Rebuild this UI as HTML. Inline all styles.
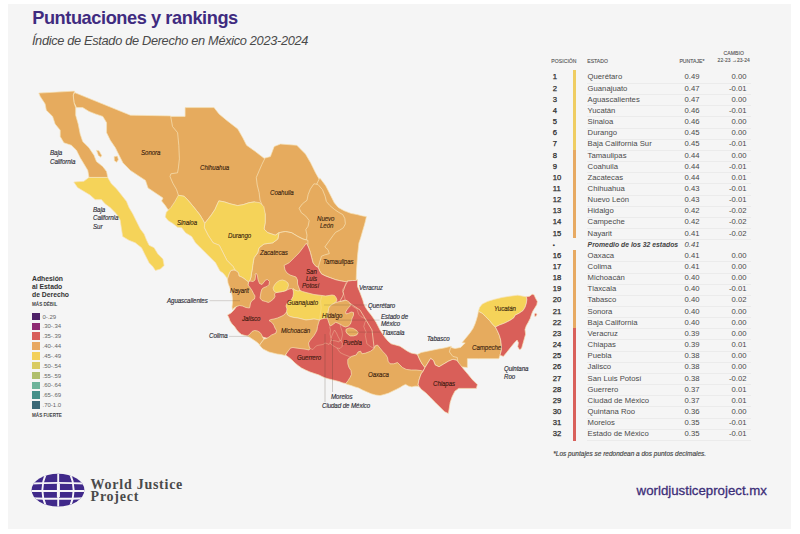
<!DOCTYPE html>
<html><head><meta charset="utf-8">
<style>
html,body{margin:0;padding:0;background:#fff;}
body{width:800px;height:534px;position:relative;overflow:hidden;font-family:"Liberation Sans",sans-serif;}
#bg{position:absolute;left:8px;top:4px;width:783px;height:525px;background:#f5f5f5;}
svg{position:absolute;left:0;top:0;}
.t{position:absolute;white-space:nowrap;line-height:1;}
#title{left:32.2px;top:9.0px;font-size:18.2px;font-weight:bold;color:#3f2b80;letter-spacing:-0.42px;}
#sub{left:31.9px;top:34.8px;font-size:12.8px;font-style:italic;color:#4a4a4a;letter-spacing:-0.33px;}
.lb{position:absolute;white-space:nowrap;font-style:italic;font-size:7.2px;line-height:1;color:rgba(45,18,8,0.85);letter-spacing:-0.1px;-webkit-text-stroke:0.2px rgba(45,18,8,0.85);transform:scaleX(0.86);transform-origin:0 50%;}
.lo{color:#2e2e38;-webkit-text-stroke:0.15px #2e2e38;}
.row{position:absolute;left:0;height:10px;line-height:10px;font-size:7.7px;color:#4a4a4a;white-space:nowrap;}
.row span{position:absolute;top:0;}
.n{left:552.8px;color:#2a2a2a;font-size:7.7px;-webkit-text-stroke:0.25px #2a2a2a;}
.s{left:587.6px;}
.p{left:684.6px;}
.c{right:53.5px;}
.hd{position:absolute;font-size:5.1px;color:#555;-webkit-text-stroke:0.12px #555;line-height:1;white-space:nowrap;letter-spacing:0.05px;}
.lg{position:absolute;left:42.5px;font-size:6px;color:#666;line-height:1;white-space:nowrap;}
.sw{position:absolute;left:32px;width:7.6px;height:7.6px;}
</style></head><body>
<div id="bg"></div>
<div class="t" id="title">Puntuaciones y rankings</div>
<div class="t" id="sub">Índice de Estado de Derecho en México 2023-2024</div>
<svg width="800" height="534" viewBox="0 0 800 534">
<g stroke="#f6e3b8" stroke-width="0.7" stroke-linejoin="round">
<path d="M170.0,116.4 L185.1,116.4 L185.1,107.6 L214.0,107.6 L219.0,113.9 L226.5,120.2 L237.8,129.0 L242.8,137.8 L246.6,145.3 L255.4,151.6 L264.1,158.3 L271.3,158.8 L271.3,215.0 L254.4,201.9 L248.8,202.8 L243.1,204.7 L237.5,205.6 L230.0,203.8 L224.4,201.9 L218.8,200.9 L215.0,209.4 L211.3,215.0 L204.7,223.4 L202.8,219.7 L200.0,215.0 L196.3,210.3 L192.5,205.6 L187.8,200.0 L184.1,196.3 L178.4,195.3 L168.1,195.3 L168.1,158.8 L165.0,116.4Z" fill="#E6AB5E"/>
<path d="M264.1,158.3 L270.4,156.6 L274.2,146.5 L280.5,144.0 L296.8,145.3 L305.5,154.1 L310.6,162.8 L315.6,172.9 L320.6,181.7 L317.9,183.8 L330.5,200.1 L325.5,250.3 L307.9,245.3 L307.9,240.3 L302.9,239.0 L297.9,236.5 L291.6,232.7 L285.3,231.5 L279.0,232.7 L275.3,235.2 L267.8,232.7 L264.0,229.0 L265.2,222.7 L265.2,213.9 L261.5,205.1 L261.9,204.7 L260.0,200.0 L259.1,192.5 L257.2,185.0 L256.3,177.5 L259.1,170.9 L261.9,164.4 L264.7,158.8Z" fill="#E6AB5E"/>
<path d="M74.7,92.6 L130.4,115.2 L170.6,115.9 L172.5,126.5 L177.6,132.7 L178.8,145.3 L179.4,158.8 L178.4,168.1 L177.5,172.8 L170.9,173.8 L170.0,176.6 L172.8,183.1 L176.6,189.7 L178.4,195.3 L181.3,201.9 L175.6,211.3 L168.1,209.8 L165.3,205.6 L161.6,200.9 L163.0,198.0 L155.5,193.0 L148.0,187.9 L145.5,180.4 L137.9,175.4 L130.4,170.4 L122.9,162.8 L119.1,155.3 L115.4,147.8 L110.3,140.3 L106.6,132.7 L106.6,122.7 L102.8,116.4 L95.3,113.9 L89.0,111.4 L82.7,107.6 L76.5,107.6 L74.0,102.6 L73.2,95.1Z" fill="#E6AB5E"/>
<path d="M114.1,156.6 L117.4,156.1 L118.4,159.8 L116.6,162.3 L114.4,160.8Z" fill="#E6AB5E"/>
<path d="M38.8,93.1 L74.7,91.1 L73.2,95.1 L74.0,102.6 L75.7,107.6 L75.7,115.2 L78.2,124.0 L80.2,134.0 L82.7,141.5 L89.0,147.8 L94.0,155.3 L96.5,161.6 L102.8,166.6 L106.6,171.6 L107.8,177.4 L89.0,177.4 L87.8,170.4 L84.0,164.1 L80.2,157.8 L76.5,150.3 L71.4,145.3 L63.9,142.8 L60.2,136.5 L60.2,130.2 L55.1,124.0 L52.6,116.4 L46.3,110.2 L45.1,103.9 L40.1,96.3Z" fill="#E6AB5E"/>
<path d="M96.5,150.3 L99.0,150.8 L101.6,155.3 L100.8,157.3 L98.3,155.3Z" fill="#E6AB5E"/>
<path d="M88.9,177.5 L107.7,177.5 L111.4,183.8 L116.5,188.8 L121.5,195.1 L126.5,201.4 L129.0,207.6 L132.8,213.9 L136.5,221.4 L140.3,229.0 L144.1,234.0 L146.6,240.3 L149.1,245.3 L154.1,247.8 L157.9,254.1 L162.9,259.1 L164.1,265.4 L160.4,269.1 L155.4,270.4 L152.8,266.6 L149.1,262.8 L145.3,255.3 L141.6,247.8 L135.3,242.8 L129.0,240.3 L122.7,236.5 L121.5,229.0 L120.2,220.2 L116.5,213.9 L110.2,207.6 L105.2,203.9 L101.4,199.6 L95.1,199.6 L90.1,195.1 L83.8,191.3 L77.6,187.6 L73.8,182.0 L83.8,181.3Z" fill="#F5D359"/>
<path d="M316.6,184.2 L319.8,177.9 L321.8,180.5 L325.7,185.7 L328.4,191.0 L331.0,196.2 L334.3,202.8 L338.2,207.4 L344.1,210.7 L350.7,213.3 L357.2,214.6 L362.5,215.9 L366.4,216.6 L365.7,220.0 L364.4,225.0 L362.3,232.0 L360.6,238.0 L358.9,243.0 L357.5,256.0 L356.6,269.0 L356.2,280.0 L357.5,279.8 L355.6,280.5 L352.3,280.5 L347.7,281.1 L346.4,281.8 L341.8,281.1 L335.9,279.8 L330.7,277.9 L325.4,275.9 L321.5,273.9 L319.5,270.7 L318.2,267.4 L315.6,266.1 L311.5,255.4 L311.5,192.5Z" fill="#E6AB5E"/>
<path d="M313.9,183.8 L317.9,184.4 L322.5,189.7 L325.1,196.2 L326.4,201.5 L329.7,205.4 L334.3,209.3 L338.2,212.0 L342.8,214.6 L344.8,218.5 L345.4,223.8 L343.4,227.7 L339.5,230.3 L335.6,232.3 L333.0,235.6 L324.8,247.0 L328.0,249.7 L329.3,253.6 L324.8,254.9 L321.5,256.2 L319.5,262.8 L318.2,267.4 L315.6,266.1 L313.0,262.8 L311.6,257.5 L310.3,252.3 L308.4,247.0 L306.4,243.1 L306.5,239.7 L307.0,235.2 L305.8,229.6 L308.1,226.2 L309.2,220.6 L305.8,216.1 L301.3,212.7 L299.1,208.2 L302.5,203.7 L307.0,200.3 L308.1,194.7 L310.3,189.1Z" fill="#E6AB5E"/>
<path d="M279.0,232.7 L285.3,231.5 L291.6,232.7 L297.9,236.5 L302.9,239.0 L307.9,240.3 L307.9,244.0 L300.0,272.0 L300.0,292.0 L276.0,307.0 L250.0,307.0 L248.5,282.0 L250.0,280.0 L251.0,277.0 L251.5,273.0 L252.5,268.0 L252.7,265.4 L254.0,257.8 L257.7,252.8 L259.0,247.8 L264.0,244.0 L272.8,242.8 L277.8,239.0Z" fill="#E6AB5E"/>
<path d="M204.7,223.4 L211.3,215.0 L215.0,209.4 L218.8,200.9 L224.4,201.9 L230.0,203.8 L237.5,205.6 L243.1,204.7 L248.8,202.8 L254.4,201.9 L260.0,202.8 L263.8,206.6 L265.2,213.9 L265.2,222.7 L264.0,229.0 L267.8,232.7 L275.3,235.2 L279.0,232.7 L277.8,239.0 L272.8,242.8 L264.0,244.0 L259.0,247.8 L257.7,252.8 L254.0,257.8 L252.7,265.4 L252.5,268.0 L251.5,273.0 L251.0,277.0 L250.0,280.0 L248.5,282.0 L246.5,280.5 L244.0,278.5 L241.5,277.0 L239.0,276.0 L238.5,273.0 L236.5,271.0 L235.0,270.0 L233.1,266.6 L226.9,260.3 L223.1,252.8 L219.3,245.3 L213.1,242.8 L208.1,235.2 L204.3,227.7Z" fill="#F5D359"/>
<path d="M178.4,195.3 L184.1,196.3 L187.8,200.0 L192.5,205.6 L196.3,210.3 L200.0,215.0 L202.8,219.7 L204.7,223.4 L204.3,227.7 L208.1,235.2 L213.1,242.8 L219.3,245.3 L223.1,252.8 L226.9,260.3 L233.1,266.6 L235.0,270.0 L234.0,270.0 L231.0,270.5 L229.5,273.0 L227.5,279.0 L225.5,276.0 L223.0,273.0 L220.0,271.0 L215.6,262.8 L208.1,255.3 L200.5,247.8 L195.5,242.8 L191.7,236.5 L185.5,232.7 L181.7,227.7 L177.5,227.2 L172.8,223.4 L168.1,220.6 L165.3,216.9 L166.3,212.2 L170.9,207.5 L174.7,201.9Z" fill="#F5D359"/>
<path d="M306.4,243.1 L308.4,247.0 L310.3,252.3 L311.6,257.5 L313.0,262.8 L315.6,266.1 L318.2,267.4 L319.5,270.7 L321.5,273.9 L325.4,275.9 L330.7,277.9 L335.9,279.8 L341.8,281.1 L346.4,281.8 L347.7,281.1 L350.0,305.0 L320.0,305.0 L300.0,300.0 L300.0,290.5 L299.0,288.0 L297.5,284.0 L297.5,280.0 L296.0,277.0 L293.0,276.0 L290.0,275.0 L287.0,273.0 L285.0,270.0 L284.1,265.4 L289.1,262.8 L294.1,257.8 L299.1,252.8 L302.9,247.8Z" fill="#D95F59"/>
<path d="M347.7,281.1 L352.3,280.5 L355.6,280.5 L357.5,279.8 L357.5,286.4 L360.2,293.0 L362.8,300.0 L363.8,303.8 L365.6,307.5 L368.1,311.2 L371.2,315.0 L373.8,318.8 L376.2,322.5 L378.1,326.2 L380.0,330.0 L382.5,333.8 L385.0,337.5 L388.1,341.2 L391.2,343.8 L395.6,345.0 L400.0,346.2 L403.8,348.8 L407.5,351.2 L411.2,353.1 L415.0,353.8 L417.5,354.4 L417.5,354.4 L418.8,357.5 L420.6,361.2 L422.5,364.4 L425.0,367.5 L423.1,371.2 L415.0,375.0 L390.0,368.8 L377.5,350.0 L352.5,337.5 L352.5,312.5 L340.0,301.0 L342.5,296.5 L343.5,294.0 L343.0,291.5 L344.0,289.0 L345.0,286.0Z" fill="#D95F59"/>
<path d="M285.5,355.0 L289.0,357.5 L292.0,360.0 L295.0,363.0 L298.0,365.5 L301.5,368.0 L305.5,370.0 L310.0,372.0 L314.5,373.5 L319.0,375.0 L323.0,377.0 L327.0,378.5 L331.0,379.5 L335.0,380.5 L339.0,381.5 L343.0,383.0 L346.0,383.5 L360.0,375.0 L375.0,355.0 L372.0,330.0 L360.0,310.0 L345.0,300.0 L330.0,305.0 L315.0,315.0 L305.0,335.0 L290.0,345.0Z" fill="#D95F59"/>
<path d="M247.5,336.0 L245.0,335.5 L241.5,334.5 L238.5,332.0 L236.5,329.5 L234.5,326.5 L232.0,324.0 L230.0,321.0 L229.0,318.0 L227.5,315.0 L231.0,313.0 L233.5,310.5 L240.0,302.0 L246.0,292.0 L248.5,282.0 L250.0,281.0 L253.0,281.5 L255.0,280.0 L255.5,276.0 L255.0,274.0 L256.5,273.5 L257.5,276.0 L258.0,279.5 L259.5,283.5 L262.0,284.5 L264.0,282.0 L265.5,280.0 L267.5,279.5 L269.5,281.5 L269.0,284.5 L267.0,286.5 L264.0,287.5 L262.0,289.0 L261.0,292.0 L260.5,295.0 L260.0,298.0 L262.0,300.5 L265.5,301.5 L268.5,302.5 L271.0,301.0 L273.5,299.0 L275.0,296.5 L274.5,294.0 L276.0,292.5 L279.0,292.0 L282.5,291.5 L286.0,290.5 L289.0,289.0 L291.5,288.5 L293.5,290.0 L296.0,291.0 L290.0,305.0 L290.0,320.0 L280.0,330.0 L270.0,339.0 L255.0,335.0Z" fill="#D95F59"/>
<path d="M227.5,279.0 L229.5,273.0 L231.0,270.5 L234.0,270.0 L236.5,271.0 L238.5,273.0 L239.0,276.0 L241.5,277.0 L244.0,278.5 L246.5,280.5 L248.5,282.0 L248.0,285.0 L250.0,287.5 L252.0,290.5 L253.5,293.5 L255.0,296.0 L254.5,299.0 L252.0,300.5 L250.5,303.0 L250.0,306.0 L249.5,308.0 L246.0,307.5 L242.5,306.0 L239.5,305.5 L236.5,306.5 L234.0,308.0 L232.5,310.0 L232.0,307.0 L232.5,303.0 L232.5,299.0 L232.0,295.0 L231.0,291.0 L229.5,287.0 L228.0,283.0Z" fill="#E6AB5E"/>
<path d="M274.5,285.0 L276.5,282.5 L279.5,280.5 L282.5,280.0 L285.5,281.0 L288.0,283.0 L288.5,285.5 L287.5,288.2 L286.0,290.5 L282.5,291.5 L279.0,292.0 L276.0,292.5 L274.0,291.0 L273.0,288.0Z" fill="#F5D359"/>
<path d="M293.0,288.5 L295.0,290.0 L298.0,291.0 L300.0,290.5 L302.5,291.5 L306.0,292.5 L310.0,293.5 L314.0,294.5 L318.0,295.0 L322.0,295.5 L325.5,296.0 L329.0,295.5 L332.0,295.0 L334.5,295.5 L336.0,297.5 L337.0,300.0 L336.0,302.0 L332.9,304.0 L330.1,305.9 L328.7,308.3 L328.3,311.1 L327.8,314.3 L327.3,318.1 L324.0,318.3 L321.7,319.0 L319.5,320.0 L317.0,319.5 L314.0,319.0 L310.0,319.5 L306.0,320.0 L302.0,319.0 L298.0,318.0 L294.0,317.5 L290.0,316.5 L287.5,315.0 L286.5,312.0 L287.0,309.0 L286.0,306.0 L287.0,303.5 L289.0,301.5 L291.5,299.5 L293.0,296.5 L293.5,293.0Z" fill="#F5D359"/>
<path d="M264.0,339.0 L266.5,338.5 L269.0,337.0 L271.5,335.0 L274.0,334.0 L276.0,333.0 L276.5,330.5 L275.0,328.0 L274.0,325.5 L272.5,323.0 L270.5,321.5 L269.0,320.5 L271.0,319.5 L274.0,319.0 L277.5,318.0 L281.0,316.5 L284.0,315.0 L286.5,312.0 L287.5,315.0 L290.0,316.5 L294.0,317.5 L298.0,318.0 L302.0,319.0 L306.0,320.0 L310.0,319.5 L314.0,319.0 L317.0,319.5 L319.5,320.0 L318.5,323.0 L317.5,326.5 L317.0,330.0 L315.5,333.0 L314.0,335.5 L312.0,338.0 L310.0,340.5 L308.5,343.0 L309.0,346.0 L310.0,348.5 L309.0,350.0 L307.0,349.5 L304.0,349.0 L300.0,348.5 L296.0,348.0 L293.0,347.5 L290.5,348.0 L289.0,350.0 L287.5,352.0 L286.0,354.0 L285.0,355.5 L281.0,354.5 L277.0,354.0 L273.0,353.0 L269.0,352.0 L266.0,350.5 L263.0,349.0 L261.0,347.0 L259.5,345.0 L262.0,341.5Z" fill="#E6AB5E"/>
<path d="M247.5,336.0 L250.0,334.0 L252.0,331.5 L254.5,330.5 L257.5,331.0 L260.0,332.5 L261.5,334.5 L262.5,337.0 L264.0,339.0 L262.0,341.5 L259.5,345.0 L258.5,343.5 L256.0,341.5 L253.0,339.5 L250.0,337.5Z" fill="#E6AB5E"/>
<path d="M328.7,308.3 L330.1,305.9 L332.9,304.0 L335.7,302.6 L339.0,301.7 L342.3,301.2 L345.6,300.3 L347.5,300.8 L349.3,302.6 L350.7,304.5 L349.8,306.4 L348.4,307.8 L347.0,309.7 L345.6,312.0 L346.0,313.9 L348.4,313.4 L351.2,312.0 L353.5,312.5 L353.5,315.3 L352.1,318.1 L351.2,321.8 L350.3,324.2 L348.4,326.0 L345.6,327.0 L342.8,326.0 L340.9,324.6 L338.1,323.2 L335.7,322.3 L333.9,323.7 L332.0,325.1 L330.1,326.0 L329.2,323.7 L328.3,320.9 L327.3,318.1 L327.8,314.3 L328.3,311.1Z" fill="#E6AB5E"/>
<path d="M346.0,329.3 L349.3,327.9 L353.1,328.4 L356.3,330.3 L358.2,332.6 L356.8,334.9 L353.5,335.9 L350.3,335.9 L347.5,334.0 L346.0,331.7Z" fill="#E6AB5E"/>
<path d="M345.6,383.8 L348.1,380.6 L350.0,377.5 L351.5,374.4 L351.0,370.6 L349.0,367.5 L347.8,363.8 L347.8,359.4 L351.2,356.5 L356.2,355.0 L358.1,351.9 L360.6,351.2 L361.9,353.8 L365.6,353.1 L370.6,351.2 L373.8,348.8 L375.6,345.6 L377.5,345.0 L380.0,348.1 L382.5,351.2 L385.6,354.4 L387.5,357.5 L388.1,361.2 L390.0,363.8 L393.8,363.8 L397.5,362.5 L400.0,365.0 L402.5,367.5 L406.2,369.4 L411.2,370.0 L416.2,370.0 L421.2,370.6 L423.1,371.2 L421.2,373.8 L420.0,376.9 L418.8,380.6 L418.1,384.4 L418.8,386.2 L415.0,386.2 L411.9,386.9 L408.8,386.2 L405.6,384.4 L403.1,385.6 L400.0,387.5 L396.2,389.4 L392.5,391.2 L388.8,393.1 L384.4,394.4 L380.0,395.6 L375.6,395.0 L371.2,393.8 L366.9,391.9 L362.5,390.0 L358.8,388.1 L355.0,386.9 L351.2,385.6 L347.5,384.4Z" fill="#E6AB5E"/>
<path d="M417.5,354.4 L421.2,352.5 L427.5,351.2 L438.1,349.0 L443.7,348.1 L451.2,346.2 L452.1,350.0 L454.0,354.6 L458.7,355.6 L459.6,364.0 L456.8,360.3 L453.0,359.3 L448.4,361.2 L443.7,364.0 L439.0,366.8 L435.2,364.9 L433.4,360.3 L430.6,358.4 L425.0,367.5 L422.5,364.4 L420.6,361.2 L418.8,357.5Z" fill="#E6AB5E"/>
<path d="M478.4,311.2 L482.3,313.2 L485.6,316.5 L489.5,320.4 L492.8,324.4 L495.4,327.0 L497.4,330.9 L499.4,335.5 L500.7,340.1 L501.3,345.4 L501.3,350.6 L500.0,355.3 L498.9,358.7 L489.9,358.7 L478.7,358.7 L467.4,358.7 L467.4,367.6 L458.4,366.5 L457.3,357.5 L452.8,356.4 L449.4,351.9 L450.6,347.4 L455.1,348.5 L460.7,347.4 L465.2,342.9 L462.0,342.7 L465.2,338.8 L467.9,335.5 L470.5,332.2 L473.1,328.3 L475.1,323.7 L476.4,319.8 L477.7,315.2Z" fill="#E6AB5E"/>
<path d="M430.6,358.4 L433.4,360.3 L435.2,364.9 L439.0,366.8 L443.7,364.0 L448.4,361.2 L453.0,359.3 L456.8,360.3 L459.6,364.0 L463.3,368.7 L468.0,374.3 L472.7,379.9 L477.4,384.6 L476.4,388.4 L468.0,388.4 L458.7,388.4 L454.9,391.2 L452.1,396.8 L450.2,402.4 L449.3,408.0 L448.4,413.6 L444.6,411.8 L439.9,407.1 L435.2,402.4 L430.6,397.7 L425.9,393.0 L421.2,389.3 L418.8,386.2 L418.1,384.4 L418.8,380.6 L420.0,376.9 L421.2,373.8 L423.1,371.2 L425.0,367.5Z" fill="#D95F59"/>
<path d="M478.4,311.2 L479.7,307.3 L482.3,304.0 L487.6,301.4 L494.1,299.4 L502.0,297.5 L509.9,296.2 L517.7,295.2 L523.0,296.2 L526.3,296.8 L526.9,299.4 L526.3,303.4 L525.0,307.3 L523.0,310.6 L519.1,313.2 L515.1,315.2 L513.8,317.8 L509.9,320.4 L504.6,323.1 L499.4,325.0 L495.4,327.0 L492.8,324.4 L489.5,320.4 L485.6,316.5 L482.3,313.2Z" fill="#F5D359"/>
<path d="M526.3,296.8 L529.6,296.2 L532.2,294.2 L534.1,294.8 L535.5,298.1 L537.4,301.4 L536.8,304.7 L534.8,308.0 L532.8,311.2 L531.5,314.5 L530.2,318.5 L528.2,322.4 L526.3,325.7 L525.0,329.6 L525.6,334.2 L524.3,338.8 L523.0,343.4 L521.7,348.0 L519.7,350.0 L517.7,346.7 L518.4,342.7 L517.1,340.1 L514.5,342.7 L511.8,346.0 L509.2,349.3 L506.6,352.6 L503.4,356.4 L500.0,355.3 L501.3,350.6 L501.3,345.4 L500.7,340.1 L499.4,335.5 L497.4,330.9 L495.4,327.0 L499.4,325.0 L504.6,323.1 L509.9,320.4 L513.8,317.8 L515.1,315.2 L519.1,313.2 L523.0,310.6 L525.0,307.3 L526.3,303.4 L526.9,299.4Z" fill="#D95F59"/>
<path d="M534.4,314.1 L535.9,313.1 L536.9,314.4 L536.1,316.2 L534.8,316.5Z" fill="#D95F59"/>
<path d="M345.5,283.0 L345.0,286.0 L342.3,290.0 L343.2,292.8 L344.2,295.6 L345.1,299.4 L345.6,300.3" fill="none" stroke-width="0.45" stroke-opacity="0.75"/>
<path d="M350.7,304.5 L354.0,307.3 L356.8,308.7 L357.8,311.5 L358.7,314.3 L361.0,316.7 L364.3,318.1 L366.2,320.0 L364.8,322.8 L363.8,326.5 L364.8,329.3 L366.2,332.1 L365.2,334.9 L366.2,340.0 L366.9,343.8 L370.0,346.2 L373.1,348.1 L375.6,345.6" fill="none" stroke-width="0.45" stroke-opacity="0.75"/>
<path d="M340.0,324.0 L341.0,328.0 L342.0,331.0 L342.5,335.0 L341.5,339.0 L341.0,341.0" fill="none" stroke-width="0.45" stroke-opacity="0.75"/>
<path d="M331.0,338.0 L333.0,333.0 L334.5,330.0 L336.5,333.0 L338.0,336.5 L340.0,340.0 L339.0,342.0 L336.0,341.0 L333.0,340.5 L331.0,340.0 L331.0,338.0" fill="none" stroke-width="0.45" stroke-opacity="0.75"/>
<path d="M331.0,340.0 L330.0,343.0 L332.0,345.0 L334.5,346.5 L337.0,348.0 L340.0,348.5 L342.0,346.5 L342.5,343.5 L341.0,341.0 L340.0,340.0" fill="none" stroke-width="0.45" stroke-opacity="0.75"/>
<path d="M310.0,348.5 L313.0,349.5 L314.5,347.5 L317.0,345.5 L320.0,345.0 L323.0,344.5 L325.0,343.0 L327.0,343.5 L329.0,344.5 L330.0,343.0" fill="none" stroke-width="0.45" stroke-opacity="0.75"/>
<path d="M337.0,348.0 L340.0,352.5 L344.0,354.5 L348.0,356.0 L351.0,357.5" fill="none" stroke-width="0.45" stroke-opacity="0.75"/>
<path d="M329.5,326.5 L330.5,330.0 L330.0,334.0 L331.0,338.0" fill="none" stroke-width="0.45" stroke-opacity="0.75"/>
<path d="M322.0,295.5 L320.5,301.0 L321.2,308.0 L320.2,315.0 L319.5,320.0" fill="none" stroke-width="0.45" stroke-opacity="0.75"/>
</g>
<g stroke="#4a3c2c" stroke-width="0.45" fill="none" stroke-opacity="0.45">
<path d="M209.5,300.7H240"/>
<path d="M229,336.4H249"/>
<path d="M324,305H367"/>
<path d="M337.2,320.1H379.5"/>
<path d="M347.5,332.1H380.5"/>
<path d="M325,334V402" stroke-opacity="0.55"/>
<path d="M332.5,339V392" stroke-opacity="0.55"/>
</g>
<g>
<clipPath id="gl"><ellipse cx="58" cy="490.1" rx="26.4" ry="16.3"/></clipPath>
<ellipse cx="58" cy="490.1" rx="26.4" ry="16.3" fill="#40298a"/>
<g clip-path="url(#gl)" stroke="#f6f5f8" stroke-width="1.9" fill="none">
<path d="M30,483.6 Q58,482.2 86,483.6"/>
<path d="M30,491 H86"/>
<path d="M30,498.2 Q58,499.4 86,498.2"/>
<path d="M46.1,473 Q38.6,489.9 46.1,507"/>
<path d="M69.9,473 Q77.4,489.9 69.9,507"/>
<path d="M58.2,472V508"/>
<path d="M58.4,484V497" stroke-width="3"/>
</g></g>
</svg>
<div class="lb lo" style="left:49.6px;top:148.9px;">Baja</div>
<div class="lb lo" style="left:49.6px;top:157.5px;">California</div>
<div class="lb lo" style="left:92.6px;top:206.1px;">Baja</div>
<div class="lb lo" style="left:92.6px;top:214.1px;">California</div>
<div class="lb lo" style="left:92.6px;top:222.6px;">Sur</div>
<div class="lb" style="left:140.5px;top:148.9px;">Sonora</div>
<div class="lb" style="left:200.0px;top:163.5px;">Chihuahua</div>
<div class="lb" style="left:270.4px;top:189.1px;">Coahuila</div>
<div class="lb" style="left:316.7px;top:215.1px;">Nuevo</div>
<div class="lb" style="left:320.0px;top:222.0px;">León</div>
<div class="lb" style="left:227.6px;top:231.8px;">Durango</div>
<div class="lb" style="left:177.4px;top:218.8px;">Sinaloa</div>
<div class="lb" style="left:260.0px;top:249.4px;">Zacatecas</div>
<div class="lb" style="left:323.0px;top:257.5px;">Tamaulipas</div>
<div class="lb" style="left:305.5px;top:267.7px;">San</div>
<div class="lb" style="left:305.5px;top:274.5px;">Luis</div>
<div class="lb" style="left:301.5px;top:281.7px;">Potosí</div>
<div class="lb lo" style="left:358.8px;top:283.5px;">Veracruz</div>
<div class="lb" style="left:229.6px;top:287.3px;">Nayarit</div>
<div class="lb lo" style="left:166.6px;top:296.8px;">Aguascalientes</div>
<div class="lb" style="left:242.3px;top:314.5px;">Jalisco</div>
<div class="lb lo" style="left:208.5px;top:332.4px;">Colima</div>
<div class="lb" style="left:287.2px;top:299.4px;">Guanajuato</div>
<div class="lb" style="left:280.7px;top:327.3px;">Michoacán</div>
<div class="lb" style="left:321.5px;top:311.5px;">Hidalgo</div>
<div class="lb lo" style="left:368.2px;top:301.6px;">Querétaro</div>
<div class="lb lo" style="left:381.0px;top:312.8px;">Estado de</div>
<div class="lb lo" style="left:381.0px;top:320.1px;">México</div>
<div class="lb lo" style="left:381.7px;top:328.9px;">Tlaxcala</div>
<div class="lb" style="left:342.7px;top:339.1px;">Puebla</div>
<div class="lb" style="left:296.5px;top:354.3px;">Guerrero</div>
<div class="lb" style="left:367.5px;top:370.9px;">Oaxaca</div>
<div class="lb lo" style="left:331.0px;top:392.7px;">Morelos</div>
<div class="lb lo" style="left:322.0px;top:402.4px;">Ciudad de México</div>
<div class="lb lo" style="left:427.0px;top:335.1px;">Tabasco</div>
<div class="lb" style="left:472.0px;top:343.5px;">Campeche</div>
<div class="lb" style="left:432.6px;top:379.5px;">Chiapas</div>
<div class="lb" style="left:494.4px;top:305.3px;">Yucatán</div>
<div class="lb lo" style="left:503.8px;top:364.9px;">Quintana</div>
<div class="lb lo" style="left:503.8px;top:372.9px;">Roo</div>
<div class="row" style="top:72.45px;width:800px;"><span class="n">1</span><span class="s">Querétaro</span><span class="p">0.49</span><span class="c">0.00</span></div>
<div class="row" style="top:83.60px;width:800px;"><span class="n">2</span><span class="s">Guanajuato</span><span class="p">0.47</span><span class="c">-0.01</span></div>
<div class="row" style="top:94.75px;width:800px;"><span class="n">3</span><span class="s">Aguascalientes</span><span class="p">0.47</span><span class="c">0.00</span></div>
<div class="row" style="top:105.90px;width:800px;"><span class="n">4</span><span class="s">Yucatán</span><span class="p">0.46</span><span class="c">-0.01</span></div>
<div class="row" style="top:117.05px;width:800px;"><span class="n">5</span><span class="s">Sinaloa</span><span class="p">0.46</span><span class="c">0.00</span></div>
<div class="row" style="top:128.20px;width:800px;"><span class="n">6</span><span class="s">Durango</span><span class="p">0.45</span><span class="c">0.00</span></div>
<div class="row" style="top:139.35px;width:800px;"><span class="n">7</span><span class="s">Baja California Sur</span><span class="p">0.45</span><span class="c">-0.01</span></div>
<div class="row" style="top:150.50px;width:800px;"><span class="n">8</span><span class="s">Tamaulipas</span><span class="p">0.44</span><span class="c">0.00</span></div>
<div class="row" style="top:161.65px;width:800px;"><span class="n">9</span><span class="s">Coahuila</span><span class="p">0.44</span><span class="c">-0.01</span></div>
<div class="row" style="top:172.80px;width:800px;"><span class="n">10</span><span class="s">Zacatecas</span><span class="p">0.44</span><span class="c">0.01</span></div>
<div class="row" style="top:183.95px;width:800px;"><span class="n">11</span><span class="s">Chihuahua</span><span class="p">0.43</span><span class="c">-0.01</span></div>
<div class="row" style="top:195.10px;width:800px;"><span class="n">12</span><span class="s">Nuevo León</span><span class="p">0.43</span><span class="c">-0.01</span></div>
<div class="row" style="top:206.25px;width:800px;"><span class="n">13</span><span class="s">Hidalgo</span><span class="p">0.42</span><span class="c">-0.02</span></div>
<div class="row" style="top:217.40px;width:800px;"><span class="n">14</span><span class="s">Campeche</span><span class="p">0.42</span><span class="c">-0.02</span></div>
<div class="row" style="top:228.55px;width:800px;"><span class="n">15</span><span class="s">Nayarit</span><span class="p">0.41</span><span class="c">-0.02</span></div>
<div class="row" style="top:250.85px;width:800px;"><span class="n">16</span><span class="s">Oaxaca</span><span class="p">0.41</span><span class="c">0.00</span></div>
<div class="row" style="top:262.00px;width:800px;"><span class="n">17</span><span class="s">Colima</span><span class="p">0.41</span><span class="c">0.00</span></div>
<div class="row" style="top:273.15px;width:800px;"><span class="n">18</span><span class="s">Michoacán</span><span class="p">0.40</span><span class="c">0.00</span></div>
<div class="row" style="top:284.30px;width:800px;"><span class="n">19</span><span class="s">Tlaxcala</span><span class="p">0.40</span><span class="c">-0.01</span></div>
<div class="row" style="top:295.45px;width:800px;"><span class="n">20</span><span class="s">Tabasco</span><span class="p">0.40</span><span class="c">0.02</span></div>
<div class="row" style="top:306.60px;width:800px;"><span class="n">21</span><span class="s">Sonora</span><span class="p">0.40</span><span class="c">0.00</span></div>
<div class="row" style="top:317.75px;width:800px;"><span class="n">22</span><span class="s">Baja California</span><span class="p">0.40</span><span class="c">0.00</span></div>
<div class="row" style="top:328.90px;width:800px;"><span class="n">23</span><span class="s">Veracruz</span><span class="p">0.39</span><span class="c">0.00</span></div>
<div class="row" style="top:340.05px;width:800px;"><span class="n">24</span><span class="s">Chiapas</span><span class="p">0.39</span><span class="c">0.01</span></div>
<div class="row" style="top:351.20px;width:800px;"><span class="n">25</span><span class="s">Puebla</span><span class="p">0.38</span><span class="c">0.00</span></div>
<div class="row" style="top:362.35px;width:800px;"><span class="n">26</span><span class="s">Jalisco</span><span class="p">0.38</span><span class="c">0.00</span></div>
<div class="row" style="top:373.50px;width:800px;"><span class="n">27</span><span class="s">San Luis Potosí</span><span class="p">0.38</span><span class="c">-0.02</span></div>
<div class="row" style="top:384.65px;width:800px;"><span class="n">28</span><span class="s">Guerrero</span><span class="p">0.37</span><span class="c">0.01</span></div>
<div class="row" style="top:395.80px;width:800px;"><span class="n">29</span><span class="s">Ciudad de México</span><span class="p">0.37</span><span class="c">0.01</span></div>
<div class="row" style="top:406.95px;width:800px;"><span class="n">30</span><span class="s">Quintana Roo</span><span class="p">0.36</span><span class="c">0.00</span></div>
<div class="row" style="top:418.10px;width:800px;"><span class="n">31</span><span class="s">Morelos</span><span class="p">0.35</span><span class="c">-0.01</span></div>
<div class="row" style="top:429.25px;width:800px;"><span class="n">32</span><span class="s">Estado de México</span><span class="p">0.35</span><span class="c">-0.01</span></div>
<div class="row" style="top:239.70px;width:800px;"><span class="n" style="font-size:6px">•</span><span class="s" style="font-style:italic;font-weight:bold;color:#444;font-size:6.85px;">Promedio de los 32 estados</span><span class="p" style="font-style:italic;">0.41</span></div>
<div style="position:absolute;left:587px;top:83.03px;width:164px;height:0.6px;background:#ebebeb;"></div>
<div style="position:absolute;left:587px;top:94.18px;width:164px;height:0.6px;background:#ebebeb;"></div>
<div style="position:absolute;left:587px;top:105.33px;width:164px;height:0.6px;background:#ebebeb;"></div>
<div style="position:absolute;left:587px;top:116.48px;width:164px;height:0.6px;background:#ebebeb;"></div>
<div style="position:absolute;left:587px;top:127.63px;width:164px;height:0.6px;background:#ebebeb;"></div>
<div style="position:absolute;left:587px;top:138.77px;width:164px;height:0.6px;background:#ebebeb;"></div>
<div style="position:absolute;left:587px;top:149.93px;width:164px;height:0.6px;background:#ebebeb;"></div>
<div style="position:absolute;left:587px;top:161.07px;width:164px;height:0.6px;background:#ebebeb;"></div>
<div style="position:absolute;left:587px;top:172.22px;width:164px;height:0.6px;background:#ebebeb;"></div>
<div style="position:absolute;left:587px;top:183.38px;width:164px;height:0.6px;background:#ebebeb;"></div>
<div style="position:absolute;left:587px;top:194.52px;width:164px;height:0.6px;background:#ebebeb;"></div>
<div style="position:absolute;left:587px;top:205.68px;width:164px;height:0.6px;background:#ebebeb;"></div>
<div style="position:absolute;left:587px;top:216.82px;width:164px;height:0.6px;background:#ebebeb;"></div>
<div style="position:absolute;left:587px;top:227.98px;width:164px;height:0.6px;background:#ebebeb;"></div>
<div style="position:absolute;left:587px;top:239.12px;width:164px;height:0.6px;background:#ebebeb;"></div>
<div style="position:absolute;left:587px;top:261.43px;width:164px;height:0.6px;background:#ebebeb;"></div>
<div style="position:absolute;left:587px;top:272.57px;width:164px;height:0.6px;background:#ebebeb;"></div>
<div style="position:absolute;left:587px;top:283.73px;width:164px;height:0.6px;background:#ebebeb;"></div>
<div style="position:absolute;left:587px;top:294.88px;width:164px;height:0.6px;background:#ebebeb;"></div>
<div style="position:absolute;left:587px;top:306.02px;width:164px;height:0.6px;background:#ebebeb;"></div>
<div style="position:absolute;left:587px;top:317.18px;width:164px;height:0.6px;background:#ebebeb;"></div>
<div style="position:absolute;left:587px;top:328.32px;width:164px;height:0.6px;background:#ebebeb;"></div>
<div style="position:absolute;left:587px;top:339.47px;width:164px;height:0.6px;background:#ebebeb;"></div>
<div style="position:absolute;left:587px;top:350.62px;width:164px;height:0.6px;background:#ebebeb;"></div>
<div style="position:absolute;left:587px;top:361.77px;width:164px;height:0.6px;background:#ebebeb;"></div>
<div style="position:absolute;left:587px;top:372.93px;width:164px;height:0.6px;background:#ebebeb;"></div>
<div style="position:absolute;left:587px;top:384.07px;width:164px;height:0.6px;background:#ebebeb;"></div>
<div style="position:absolute;left:587px;top:395.22px;width:164px;height:0.6px;background:#ebebeb;"></div>
<div style="position:absolute;left:587px;top:406.38px;width:164px;height:0.6px;background:#ebebeb;"></div>
<div style="position:absolute;left:587px;top:417.52px;width:164px;height:0.6px;background:#ebebeb;"></div>
<div style="position:absolute;left:587px;top:428.68px;width:164px;height:0.6px;background:#ebebeb;"></div>
<div style="position:absolute;left:587px;top:439.82px;width:164px;height:0.6px;background:#ebebeb;"></div>
<div style="position:absolute;left:572.6px;top:70.30px;width:3.4px;height:79.63px;background:#EFCD62;"></div>
<div style="position:absolute;left:572.6px;top:149.93px;width:3.4px;height:88.07px;background:#E7AA63;"></div>
<div style="position:absolute;left:572.6px;top:249.60px;width:3.4px;height:78.72px;background:#E7AA63;"></div>
<div style="position:absolute;left:572.6px;top:328.32px;width:3.4px;height:112.43px;background:#D9605B;"></div>
<div class="hd" style="left:551.3px;top:58.8px;">POSICIÓN</div>
<div class="hd" style="left:587.2px;top:58.8px;">ESTADO</div>
<div class="hd" style="left:679.4px;top:58.8px;">PUNTAJE*</div>
<div class="hd" style="left:723.6px;top:51px;">CAMBIO</div>
<div class="hd" style="left:717.6px;top:58.8px;font-size:4.95px;">22-23 →23-24</div>
<div class="t" style="left:32px;top:274.5px;font-size:6.8px;font-weight:bold;color:#333;line-height:8.1px;">Adhesión<br>al Estado<br>de Derecho</div>
<div class="t" style="left:32px;top:302.5px;font-size:4.6px;font-weight:bold;color:#444;">MÁS DÉBIL</div>
<div class="t" style="left:32px;top:414px;font-size:4.6px;font-weight:bold;color:#444;">MÁS FUERTE</div>
<div class="sw" style="top:312.80px;background:#4E2268;"></div>
<div class="lg" style="top:313.60px;">0-.29</div>
<div class="sw" style="top:322.62px;background:#8E2A72;"></div>
<div class="lg" style="top:323.42px;">.30-.34</div>
<div class="sw" style="top:332.44px;background:#D85E5A;"></div>
<div class="lg" style="top:333.24px;">.35-.39</div>
<div class="sw" style="top:342.26px;background:#E8A862;"></div>
<div class="lg" style="top:343.06px;">.40-.44</div>
<div class="sw" style="top:352.08px;background:#F3D05A;"></div>
<div class="lg" style="top:352.88px;">.45-.49</div>
<div class="sw" style="top:361.90px;background:#D9CB62;"></div>
<div class="lg" style="top:362.70px;">.50-.54</div>
<div class="sw" style="top:371.72px;background:#AFBF6C;"></div>
<div class="lg" style="top:372.52px;">.55-.59</div>
<div class="sw" style="top:381.54px;background:#6DB39A;"></div>
<div class="lg" style="top:382.34px;">.60-.64</div>
<div class="sw" style="top:391.36px;background:#459089;"></div>
<div class="lg" style="top:392.16px;">.65-.69</div>
<div class="sw" style="top:401.18px;background:#3A6876;"></div>
<div class="lg" style="top:401.98px;">.70-1.0</div>
<div class="t" style="left:90.6px;top:478.6px;font-family:'Liberation Serif',serif;font-weight:bold;font-size:14px;letter-spacing:0.74px;color:#4a4a4a;line-height:12.4px;">World Justice<br>Project</div>
<div class="t" style="left:636.6px;top:484.2px;font-size:13.25px;color:#3b2d78;-webkit-text-stroke:0.3px #3b2d78;">worldjusticeproject.mx</div>
<div class="t" style="left:553.3px;top:451.3px;font-size:6.5px;font-style:italic;color:#444;-webkit-text-stroke:0.15px #444;">*Los puntajes se redondean a dos puntos decimales.</div>
</body></html>
